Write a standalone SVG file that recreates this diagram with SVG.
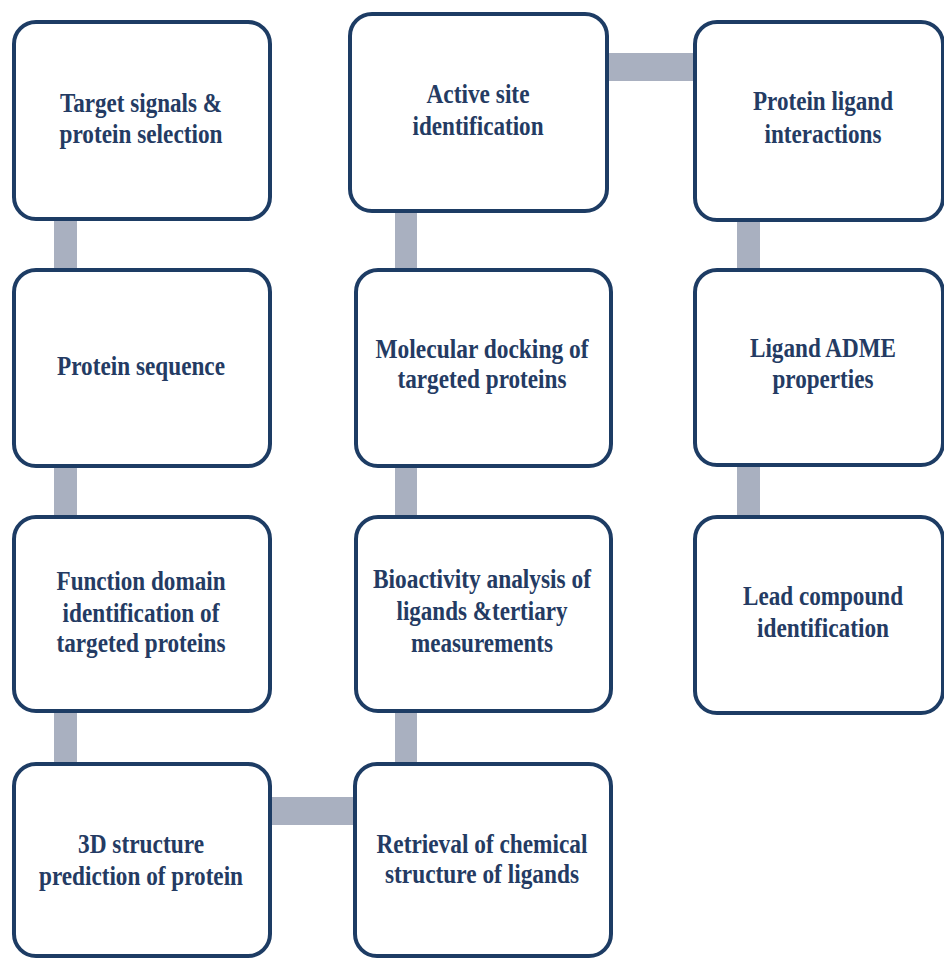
<svg xmlns="http://www.w3.org/2000/svg" width="944" height="959" viewBox="0 0 944 959">
<style>
.box{fill:#ffffff;stroke:#1d3c64;stroke-width:4}
.lbl{font-family:"Liberation Serif","DejaVu Serif",serif;font-weight:bold;font-size:27px;fill:#243b63;text-anchor:middle}
.conn{fill:#a9b0c0}
</style>
<rect width="944" height="959" fill="#ffffff"/>
<g id="connectors">
<rect class="conn" x="54" y="215" width="23" height="58"/>
<rect class="conn" x="54" y="462" width="23" height="58"/>
<rect class="conn" x="54" y="707" width="23" height="60"/>
<rect class="conn" x="395" y="207" width="22" height="66"/>
<rect class="conn" x="395" y="462" width="22" height="58"/>
<rect class="conn" x="395" y="707" width="22" height="60"/>
<rect class="conn" x="737" y="216" width="23" height="57"/>
<rect class="conn" x="737" y="461" width="23" height="59"/>
<rect class="conn" x="603" y="53" width="95" height="28"/>
<rect class="conn" x="266" y="797" width="92" height="28"/>
</g>
<g id="n1">
<rect class="box" x="14" y="22" width="256" height="197" rx="22"/>
<text class="lbl"><tspan x="141" y="112" textLength="162" lengthAdjust="spacingAndGlyphs">Target signals &amp;</tspan><tspan x="141" y="143" textLength="163" lengthAdjust="spacingAndGlyphs">protein selection</tspan></text>
</g>
<g id="n2">
<rect class="box" x="14" y="270" width="256" height="196" rx="22"/>
<text class="lbl"><tspan x="141" y="375" textLength="168" lengthAdjust="spacingAndGlyphs">Protein sequence</tspan></text>
</g>
<g id="n3">
<rect class="box" x="14" y="517" width="256" height="194" rx="22"/>
<text class="lbl"><tspan x="141" y="590" textLength="169" lengthAdjust="spacingAndGlyphs">Function domain</tspan><tspan x="141" y="622" textLength="157" lengthAdjust="spacingAndGlyphs">identification of</tspan><tspan x="141" y="652" textLength="169" lengthAdjust="spacingAndGlyphs">targeted proteins</tspan></text>
</g>
<g id="n4">
<rect class="box" x="14" y="764" width="256" height="192" rx="22"/>
<text class="lbl"><tspan x="141" y="853" textLength="126" lengthAdjust="spacingAndGlyphs">3D structure</tspan><tspan x="141" y="885" textLength="204" lengthAdjust="spacingAndGlyphs">prediction of protein</tspan></text>
</g>
<g id="n5">
<rect class="box" x="355" y="764" width="256" height="192" rx="22"/>
<text class="lbl"><tspan x="482" y="853" textLength="211" lengthAdjust="spacingAndGlyphs">Retrieval of chemical</tspan><tspan x="482" y="883" textLength="194" lengthAdjust="spacingAndGlyphs">structure of ligands</tspan></text>
</g>
<g id="n6">
<rect class="box" x="356" y="517" width="255" height="194" rx="22"/>
<text class="lbl"><tspan x="482" y="588" textLength="218" lengthAdjust="spacingAndGlyphs">Bioactivity analysis of</tspan><tspan x="482" y="620" textLength="171" lengthAdjust="spacingAndGlyphs">ligands &amp;tertiary</tspan><tspan x="482" y="652" textLength="142" lengthAdjust="spacingAndGlyphs">measurements</tspan></text>
</g>
<g id="n7">
<rect class="box" x="356" y="270" width="255" height="196" rx="22"/>
<text class="lbl"><tspan x="482" y="358" textLength="213" lengthAdjust="spacingAndGlyphs">Molecular docking of</tspan><tspan x="482" y="388" textLength="169" lengthAdjust="spacingAndGlyphs">targeted proteins</tspan></text>
</g>
<g id="n8">
<rect class="box" x="350" y="14" width="257" height="197" rx="22"/>
<text class="lbl"><tspan x="478" y="103" textLength="103" lengthAdjust="spacingAndGlyphs">Active site</tspan><tspan x="478" y="135" textLength="131" lengthAdjust="spacingAndGlyphs">identification</tspan></text>
</g>
<g id="n9">
<rect class="box" x="695" y="22" width="248" height="198" rx="22"/>
<text class="lbl"><tspan x="823" y="110" textLength="140" lengthAdjust="spacingAndGlyphs">Protein ligand</tspan><tspan x="823" y="143" textLength="117" lengthAdjust="spacingAndGlyphs">interactions</tspan></text>
</g>
<g id="n10">
<rect class="box" x="695" y="270" width="248" height="195" rx="22"/>
<text class="lbl"><tspan x="823" y="357" textLength="146" lengthAdjust="spacingAndGlyphs">Ligand ADME</tspan><tspan x="823" y="388" textLength="101" lengthAdjust="spacingAndGlyphs">properties</tspan></text>
</g>
<g id="n11">
<rect class="box" x="695" y="517" width="248" height="196" rx="22"/>
<text class="lbl"><tspan x="823" y="605" textLength="160" lengthAdjust="spacingAndGlyphs">Lead compound</tspan><tspan x="823" y="637" textLength="132" lengthAdjust="spacingAndGlyphs">identification</tspan></text>
</g>
</svg>
